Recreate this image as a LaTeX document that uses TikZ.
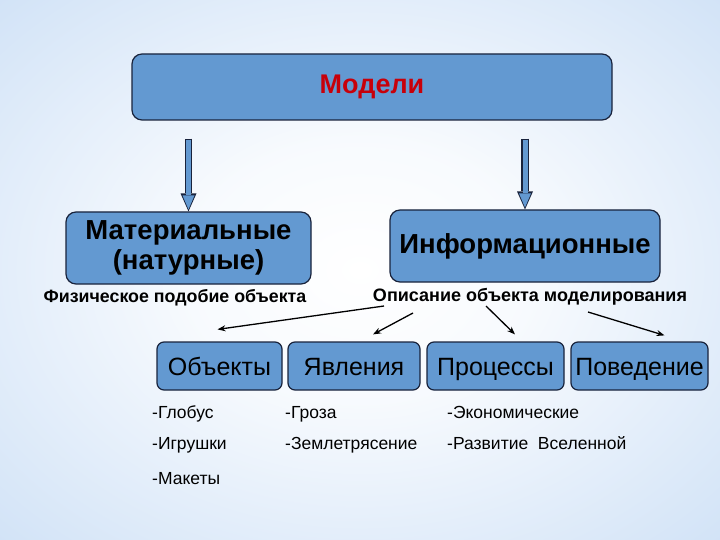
\documentclass[tikz,border=0pt]{standalone}
\usepackage{fontspec}
\setmainfont{Liberation Sans}
\usetikzlibrary{arrows.meta}
\definecolor{boxblue}{RGB}{99,153,209}
\definecolor{boxline}{RGB}{25,35,60}
\definecolor{bgblue}{RGB}{160,196,238}
\definecolor{titlered}{RGB}{200,0,10}
\pgfdeclareradialshading{bgshade}{\pgfpoint{0bp}{0bp}}{color(0bp)=(white); color(12bp)=(white!92!bgblue); color(40bp)=(white!45!bgblue); color(52bp)=(bgblue); color(75bp)=(bgblue)}

\begin{document}
\begin{tikzpicture}[x=1pt,y=-1pt]
	\shade[shading=bgshade] (0,0) rectangle (720,540);
	\useasboundingbox (0,0) rectangle (720,540);
	\tikzstyle{every node}=[inner sep=2pt]
	\tikzstyle{box}=[draw=boxline, line width=1.2pt, fill=boxblue, rounded corners=10pt, align=center]
	\tikzstyle{cat}=[box, rounded corners=7pt, minimum height=48pt, inner sep=1pt, text height=20pt, text depth=2pt, font=\fontsize{25}{28}\selectfont]
	\tikzstyle{item}=[anchor=base west, font=\fontsize{17.5}{20}\selectfont]
	\tikzstyle{link}=[line width=1.3pt, -{Stealth[length=8pt,width=6pt]}]
	\draw (372,87) node[box, minimum width=480pt, minimum height=66pt, text=titlered, font=\bfseries\fontsize{27}{30}\selectfont] (top) {Модели};
	\draw (188.5,248) node[box, minimum width=245pt, minimum height=72pt, font=\bfseries\fontsize{27.5}{30.5}\selectfont] (mat) {Материальные\\(натурные)};
	\draw (525,246) node[box, minimum width=270pt, minimum height=72pt, font=\bfseries\fontsize{27.5}{30}\selectfont] (info) {Информационные};
	\draw (175,298) node[font=\bfseries\fontsize{17.8}{20}\selectfont] (fiz) {Физическое подобие объекта};
	\draw (530,297) node[font=\bfseries\fontsize{18}{20}\selectfont] (opis) {Описание объекта моделирования};
	\draw (219.5,366) node[cat, minimum width=125pt] (obj) {Объекты};
	\draw (354,366) node[cat, minimum width=132pt] (yavl) {Явления};
	\draw (495.5,366) node[cat, minimum width=137pt] (proc) {Процессы};
	\draw (639.5,366) node[cat, minimum width=137pt] (pov) {Поведение};
	\foreach \n in {mat,info}{
		\draw[line width=7.5pt, boxline, -{Triangle[width=16pt,length=18pt,line width=0pt]}] ([yshift=-18pt]top.south -| \n) -- (\n.north);
		\draw[line width=5pt, boxblue, shorten >=2pt, -{Triangle[width=12pt,length=14pt,line width=0pt]}] ([yshift=-19pt]top.south -| \n) -- (\n.north);
	}
	\draw[link] ([xshift=-146pt,yshift=-9pt]opis.center) -- ([xshift=-2pt,yshift=12pt]obj.north);
	\draw[link] ([xshift=-117pt,yshift=-16pt]opis.center) -- ([xshift=19pt,yshift=7pt]yavl.north);
	\draw[link] ([xshift=-44pt,yshift=-9pt]opis.center) -- ([xshift=19.5pt,yshift=7pt]proc.north);
	\draw[link] ([xshift=58pt,yshift=-15pt]opis.center) -- ([xshift=25pt,yshift=6pt]pov.north);
	\draw (150,418) node[item] (i1) {-Глобус};
	\draw (150,449) node[item] (i2) {-Игрушки};
	\draw (150,484) node[item] (i3) {-Макеты};
	\draw (283,418) node[item] (i4) {-Гроза};
	\draw (283,449) node[item] (i5) {-Землетрясение};
	\draw (445,418) node[item] (i6) {-Экономические};
	\draw (445,449) node[item] (i7) {-Развитие\ \ Вселенной};
\end{tikzpicture}
\end{document}
